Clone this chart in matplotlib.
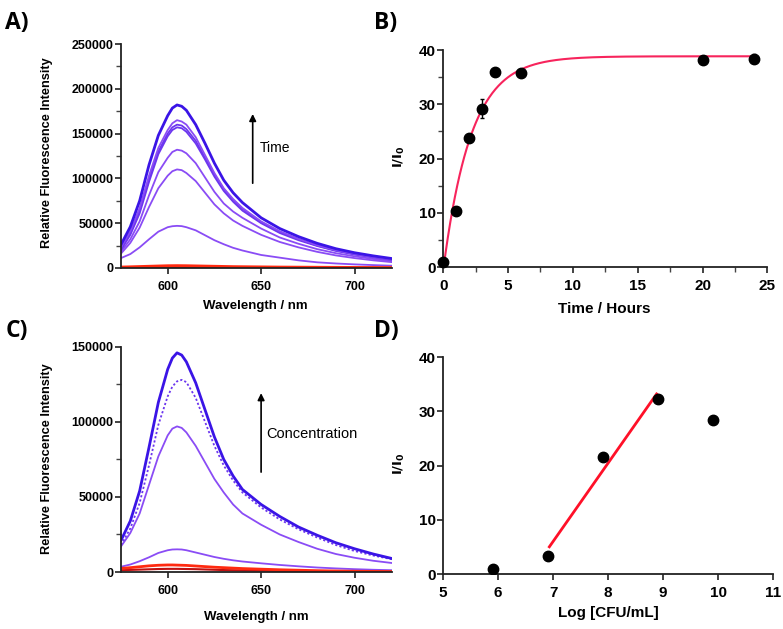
import numpy as np
import matplotlib
matplotlib.use("Agg")
import matplotlib.pyplot as plt
from matplotlib.ticker import MultipleLocator

plt.rcParams['font.family'] = ['Liberation Sans', 'DejaVu Sans']

# ---------------- data ----------------
wavelength = [575, 580, 585, 590, 595, 600, 602.5, 605, 607.5, 610, 615, 620, 625, 630, 635, 640, 650, 660, 670, 680, 690, 700, 710, 720]

# Panel A: spectra over time
specA_1 = [26000, 46000, 75000, 115000, 148000, 170000, 178500, 182000, 180500, 176000, 160000, 139000, 117000, 98000, 84000, 73000, 56000, 44000, 35000, 27500, 21500, 17000, 13500, 10500]
specA_2 = [23000, 41000, 67000, 103000, 134000, 154000, 161500, 165000, 163500, 160000, 146000, 126000, 106000, 89000, 77000, 67000, 52000, 41000, 32500, 25500, 20000, 16000, 12500, 9800]
specA_3 = [21000, 39000, 64000, 99000, 130000, 150000, 157000, 160000, 159000, 155000, 142000, 123000, 104000, 88000, 76000, 66000, 51000, 40000, 32000, 25000, 19500, 15500, 12000, 9300]
specA_4 = [20000, 37000, 61000, 96000, 127000, 147000, 154000, 157000, 156000, 152000, 139000, 121000, 102000, 86000, 74000, 64000, 50000, 39000, 31000, 24500, 19000, 15000, 11800, 9000]
specA_5 = [18000, 32000, 52000, 81000, 107000, 123000, 129500, 132000, 131000, 128000, 117000, 101000, 85000, 72000, 63000, 56000, 44000, 34000, 27000, 21000, 16500, 13000, 10000, 7500]
specA_6 = [16000, 28000, 45000, 68000, 89000, 103000, 108000, 110000, 109200, 106000, 97000, 84000, 71000, 61000, 53000, 47000, 37000, 29000, 23000, 18000, 14000, 11000, 8500, 6500]
specA_7 = [11000, 15500, 23000, 32000, 40500, 45500, 46600, 47000, 46700, 45500, 42000, 36500, 31000, 26500, 22500, 19500, 14500, 11500, 8500, 6300, 5000, 4000, 3200, 2500]
specA_r1 = [1000, 1300, 1600, 1900, 2200, 2500, 2550, 2600, 2550, 2500, 2300, 2100, 1900, 1700, 1500, 1400, 1200, 1000, 900, 800, 700, 600, 500, 400]
specA_r2 = [500, 600, 700, 800, 900, 1000, 1000, 1000, 1000, 1000, 950, 900, 850, 800, 700, 650, 600, 500, 450, 400, 350, 300, 250, 200]

# Panel B: kinetics
time_h = [0, 1, 2, 3, 4, 6, 20, 24]
ratio_t = [1.0, 10.3, 23.8, 29.2, 36.0, 35.7, 38.1, 38.4]
ratio_t_err = [0.3, 0.7, 0.5, 1.8, 0.4, 0.4, 0.4, 0.8]

# Panel C: spectra over concentration
specC_1 = [21000, 34000, 54000, 83000, 113000, 135000, 142500, 146000, 144500, 140000, 126000, 108000, 90000, 75000, 64000, 55000, 45000, 37000, 30000, 24500, 19500, 15500, 12000, 9000]
specC_2 = [18000, 29000, 46000, 71000, 98000, 117000, 123500, 127000, 128000, 126500, 116000, 100000, 84000, 71000, 61000, 53000, 43000, 35000, 28500, 23000, 18000, 14000, 11000, 8500]
specC_3 = [17000, 26000, 39000, 58000, 77000, 91000, 95500, 97000, 96000, 93000, 84000, 73000, 62000, 53000, 45000, 39000, 31500, 25000, 20000, 15500, 12000, 9500, 7500, 6000]
specC_4 = [3500, 5000, 7200, 9800, 12700, 14500, 15000, 15100, 15000, 14500, 13000, 11500, 10000, 8800, 7800, 7000, 5800, 4700, 3800, 3000, 2400, 1900, 1500, 1200]
specC_r1 = [2400, 2900, 3500, 4100, 4500, 4700, 4700, 4600, 4500, 4400, 4000, 3600, 3200, 2900, 2600, 2300, 1900, 1500, 1200, 900, 700, 500, 400, 300]
specC_r2 = [1200, 1400, 1600, 1800, 2000, 2100, 2100, 2100, 2050, 2000, 1900, 1700, 1500, 1300, 1200, 1100, 900, 700, 550, 450, 350, 250, 200, 150]

# Panel D: calibration
log_cfu = [5.9, 6.9, 7.9, 8.9, 9.9]
ratio_c = [0.9, 3.3, 21.6, 32.2, 28.3]
ratio_c_err = [0.2, 0.3, 0.4, 0.6, 0.4]
fit_idx = [1, 2, 3]

# ---------------- figure ----------------
fig = plt.figure(figsize=(7.83, 6.29), dpi=100)

axA = fig.add_axes([0.1545, 0.574, 0.346, 0.356])
axB = fig.add_axes([0.566, 0.5755, 0.414, 0.345])
axC = fig.add_axes([0.1545, 0.0906, 0.346, 0.358])
axD = fig.add_axes([0.566, 0.0874, 0.4215, 0.345])

def style(ax, fs, xpad, ypad):
    for s in ['top', 'right']:
        ax.spines[s].set_visible(False)
    for s in ['left', 'bottom']:
        ax.spines[s].set_linewidth(1.3)
        ax.spines[s].set_color('#222222')
    ax.tick_params(which='major', length=4.3, width=1.2, labelsize=fs, color='#222222')
    ax.tick_params(which='minor', length=3.3, width=1.0, color='#444444')
    ax.tick_params(axis='x', pad=xpad)
    ax.tick_params(axis='y', pad=ypad)
    for lab in ax.get_xticklabels() + ax.get_yticklabels():
        lab.set_fontweight('bold')

dark = '#3a14e6'
mid = '#6c36ef'
light = '#8a4cf5'
red = '#ff2a10'

# Panel A
for spec, c, lw in [(specA_7, light, 1.3), (specA_6, light, 1.3), (specA_5, light, 1.3),
                    (specA_4, mid, 1.3), (specA_3, mid, 1.3), (specA_2, light, 1.3),
                    (specA_1, dark, 2.0)]:
    axA.plot(wavelength, spec, color=c, lw=lw)
axA.plot(wavelength, specA_r2, color='#c01010', lw=1.5)
axA.plot(wavelength, specA_r1, color=red, lw=2.0)
axA.set_xlim(575, 720)
axA.set_ylim(0, 250000)
axA.set_xticks([600, 650, 700])
axA.set_yticks([0, 50000, 100000, 150000, 200000, 250000])
axA.yaxis.set_minor_locator(MultipleLocator(25000))
style(axA, 9, 5, 1)
axA.set_ylabel('Relative Fluorescence Intensity', fontsize=9.2, fontweight='bold')
axA.yaxis.set_label_coords(-0.251, 0.516)
axA.set_xlabel('Wavelength / nm', fontsize=9.5, fontweight='bold')
axA.xaxis.set_label_coords(0.496, -0.143)
axA.annotate('', xy=(645.5, 175000), xytext=(645.5, 91500),
             arrowprops=dict(arrowstyle='-|>', color='black', lw=1.2, mutation_scale=10))
axA.text(649.5, 134000, 'Time', fontsize=10, va='center', ha='left')

# Panel B
k_grid = np.linspace(0.05, 2.0, 2000)
t_arr = np.array(time_h, dtype=float)
y_arr = np.array(ratio_t, dtype=float)
best = None
for k in k_grid:
    X = np.column_stack([np.ones_like(t_arr), np.exp(-k * t_arr)])
    coef, res, *_ = np.linalg.lstsq(X, y_arr, rcond=None)
    sse = np.sum((X @ coef - y_arr) ** 2)
    if best is None or sse < best[0]:
        best = (sse, k, coef)
_, kb, cb = best
tt = np.linspace(0, 24, 400)
axB.plot(tt, cb[0] + cb[1] * np.exp(-kb * tt), color='#f7245c', lw=1.5, zorder=2)
axB.errorbar(time_h, ratio_t, yerr=ratio_t_err, fmt='o', color='black', ms=7.5,
             elinewidth=1.0, capsize=1.5, zorder=3, clip_on=False)
axB.set_xlim(0, 25)
axB.set_ylim(0, 40)
axB.set_xticks([0, 5, 10, 15, 20, 25])
axB.set_yticks([0, 10, 20, 30, 40])
axB.xaxis.set_minor_locator(MultipleLocator(2.5))
axB.yaxis.set_minor_locator(MultipleLocator(5))
style(axB, 11, 4, 1)
axB.set_ylabel(r'$\mathbf{I/I_0}$', fontsize=9.5)
axB.yaxis.set_label_coords(-0.111, 0.507)
axB.set_xlabel('Time / Hours', fontsize=11, fontweight='bold')
axB.xaxis.set_label_coords(0.497, -0.161)

# Panel C
axC.plot(wavelength, specC_4, color=light, lw=1.3)
axC.plot(wavelength, specC_3, color=light, lw=1.3)
axC.plot(wavelength, specC_2, color=mid, lw=1.3, ls=(0, (1.2, 1.2)))
axC.plot(wavelength, specC_1, color=dark, lw=2.0)
axC.plot(wavelength, specC_r2, color='#c01010', lw=1.5)
axC.plot(wavelength, specC_r1, color=red, lw=2.0)
axC.set_xlim(575, 720)
axC.set_ylim(0, 150000)
axC.set_xticks([600, 650, 700])
axC.set_yticks([0, 50000, 100000, 150000])
axC.yaxis.set_minor_locator(MultipleLocator(25000))
style(axC, 9, 5, 1)
axC.set_ylabel('Relative Fluorescence Intensity', fontsize=9.2, fontweight='bold')
axC.yaxis.set_label_coords(-0.251, 0.502)
axC.set_xlabel('Wavelength / nm', fontsize=9.5, fontweight='bold')
axC.xaxis.set_label_coords(0.50, -0.173)
axC.annotate('', xy=(650, 121000), xytext=(650, 64700),
             arrowprops=dict(arrowstyle='-|>', color='black', lw=1.2, mutation_scale=10))
axC.text(652.6, 92000, 'Concentration', fontsize=10.5, va='center', ha='left')

# Panel D
xf = np.array([log_cfu[i] for i in fit_idx])
yf = np.array([ratio_c[i] for i in fit_idx])
slope, icpt = np.polyfit(xf, yf, 1)
xl = np.array([6.93, 8.88])
axD.plot(xl, slope * xl + icpt, color='#ff1028', lw=2.0, zorder=2)
axD.errorbar(log_cfu, ratio_c, yerr=ratio_c_err, fmt='o', color='black', ms=7.5,
             elinewidth=1.0, capsize=1.5, zorder=3)
axD.set_xlim(5, 11)
axD.set_ylim(0, 40)
axD.set_xticks([5, 6, 7, 8, 9, 10, 11])
axD.set_yticks([0, 10, 20, 30, 40])
style(axD, 11, 4, 1)
axD.set_ylabel(r'$\mathbf{I/I_0}$', fontsize=9.5)
axD.yaxis.set_label_coords(-0.109, 0.51)
axD.set_xlabel('Log [CFU/mL]', fontsize=11, fontweight='bold')
axD.xaxis.set_label_coords(0.50, -0.147)

# Panel letters
for lbl, x, y in [('A)', 0.007, 0.963), ('B)', 0.478, 0.963), ('C)', 0.007, 0.473), ('D)', 0.478, 0.473)]:
    fig.text(x, y, lbl, fontsize=16.5, fontweight='bold', family=['Open Sans', 'DejaVu Sans'], va='center', ha='left')

fig.savefig('out.png', dpi=100)
